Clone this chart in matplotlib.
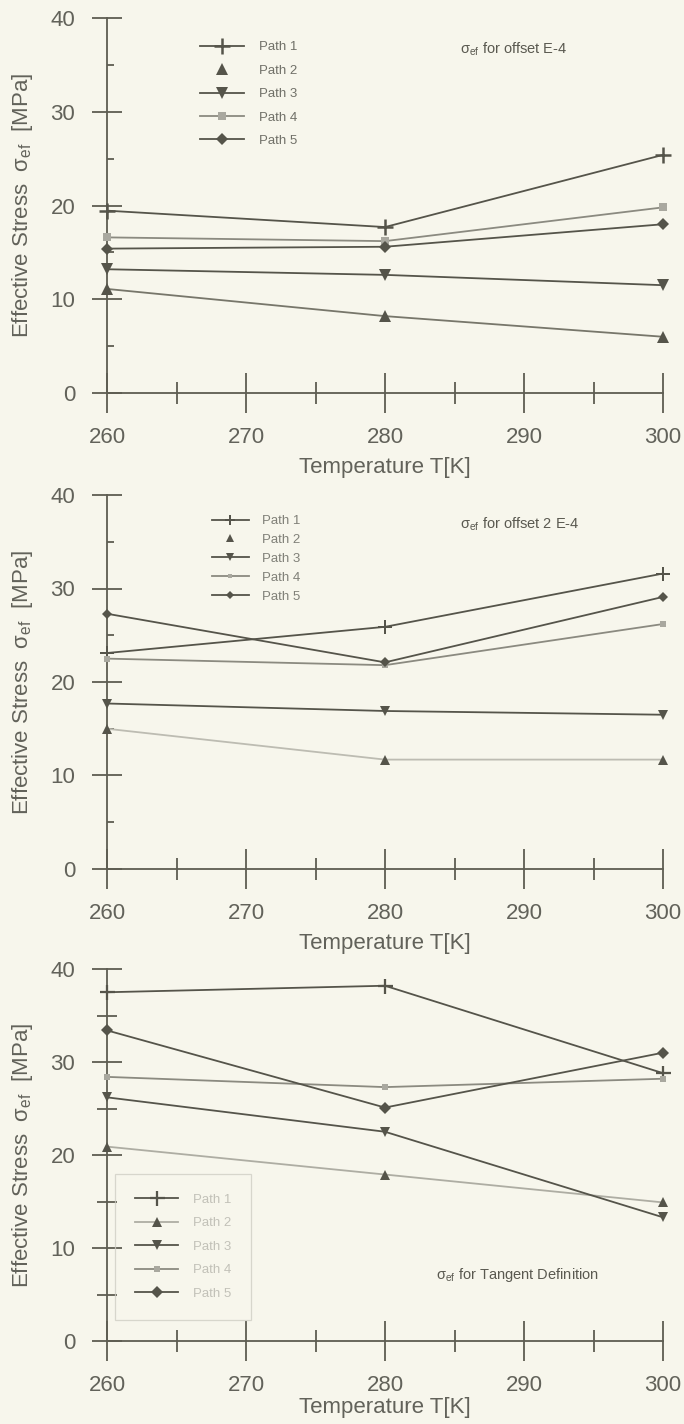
import matplotlib
matplotlib.use("Agg")
import matplotlib.pyplot as plt
from matplotlib.lines import Line2D
from matplotlib.ticker import MultipleLocator

# ---- data -------------------------------------------------------------
temperature = [260, 280, 300]
path_labels = ["Path 1", "Path 2", "Path 3", "Path 4", "Path 5"]
x_ticks = [260, 270, 280, 290, 300]
y_ticks = [0, 10, 20, 30, 40]

# offset E-4
off1_path1 = [19.45, 17.7, 25.4]
off1_path2 = [11.1, 8.2, 6.0]
off1_path3 = [13.2, 12.6, 11.5]
off1_path4 = [16.6, 16.2, 19.8]
off1_path5 = [15.4, 15.6, 18.0]

# offset 2 E-4
off2_path1 = [23.1, 25.9, 31.6]
off2_path2 = [15.0, 11.7, 11.7]
off2_path3 = [17.7, 16.9, 16.5]
off2_path4 = [22.5, 21.8, 26.2]
off2_path5 = [27.3, 22.1, 29.1]

# tangent definition
tan_path1 = [37.5, 38.2, 28.8]
tan_path2 = [20.9, 17.9, 14.9]
tan_path3 = [26.2, 22.5, 13.3]
tan_path4 = [28.4, 27.3, 28.2]
tan_path5 = [33.4, 25.1, 31.0]

titles = [r"$\sigma_{ef}$ for offset E-4",
          r"$\sigma_{ef}$ for offset 2 E-4",
          r"$\sigma_{ef}$ for Tangent Definition"]

# ---- style ------------------------------------------------------------
plt.rcParams["font.family"] = ["Liberation Sans", "DejaVu Sans"]
plt.rcParams["mathtext.fontset"] = "custom"
plt.rcParams["mathtext.rm"] = "Liberation Sans"
plt.rcParams["mathtext.it"] = "Liberation Sans"

BG = "#f7f6ec"
DARK = "#55544a"
TXT = "#62625a"
AX = "#5e5d52"

W, H = 684, 1424
fig = plt.figure(figsize=(W / 100, H / 100), dpi=100, facecolor=BG)

# panel frames in pixels: left, top(y=40), right, bottom(y=0)
frames = [(107, 18, 663, 393), (107, 495, 663, 869), (107, 969, 663, 1341)]
xlabel_y = [-0.17, -0.17, -0.15]

panels = [
    [off1_path1, off1_path2, off1_path3, off1_path4, off1_path5],
    [off2_path1, off2_path2, off2_path3, off2_path4, off2_path5],
    [tan_path1, tan_path2, tan_path3, tan_path4, tan_path5],
]

path2_line = ["#77766a", "#bdbcb2", "#aeada3"]
marker_scale = [1.0, 0.8, 0.9]
title_pos = [(0.635, 0.917), (0.635, 0.922), (0.592, 0.177)]


def styles(i):
    s = marker_scale[i]
    return [
        dict(marker="+", color=DARK, ms=12 * s, mew=1.8 * s),
        dict(marker="^", color=path2_line[i], mfc=DARK, mec=DARK, ms=8.5 * s, mew=0),
        dict(marker="v", color=DARK, mfc=DARK, mec=DARK, ms=8.5 * s, mew=0),
        dict(marker="s", color="#8b8a80", mfc="#a9a89f", mec="#a9a89f", ms=5.5 * s, mew=0),
        dict(marker="D", color=DARK, mfc=DARK, mec=DARK, ms=6.5 * s, mew=0),
    ]


for i, ((l, t, r, b), series) in enumerate(zip(frames, panels)):
    ax = fig.add_axes([l / W, 1 - b / H, (r - l) / W, (b - t) / H])
    ax.set_facecolor("none")
    st = styles(i)
    for vals, kw in zip(series, st):
        ax.plot(temperature, vals, lw=1.3, clip_on=False, zorder=3, **kw)

    ax.set_xlim(260, 300)
    ax.set_ylim(0, 40)
    ax.set_xticks(x_ticks)
    ax.set_yticks(y_ticks)
    ax.xaxis.set_minor_locator(MultipleLocator(5))
    ax.yaxis.set_minor_locator(MultipleLocator(5))
    for side in ("top", "right"):
        ax.spines[side].set_visible(False)
    for side in ("left", "bottom"):
        ax.spines[side].set_color(AX)
        ax.spines[side].set_linewidth(1.3)

    ax.tick_params(axis="x", which="major", direction="inout", length=29.5,
                   width=1.3, color=AX, labelsize=16, labelcolor=TXT, pad=10)
    ax.tick_params(axis="x", which="minor", direction="inout", length=16,
                   width=1.3, color=AX)
    ax.tick_params(axis="y", which="major", direction="inout", length=21.6,
                   width=1.3, color=AX, labelsize=16, labelcolor=TXT, pad=12)
    if i == 2:
        ax.tick_params(axis="y", which="minor", direction="inout", length=14,
                       width=1.3, color=AX)
    else:
        ax.tick_params(axis="y", which="minor", direction="in", length=5,
                       width=1.3, color=AX)

    ax.set_xlabel("Temperature T[K]", fontsize=16, color=TXT)
    ax.xaxis.set_label_coords(0.5, xlabel_y[i])
    ax.set_ylabel(r"Effective Stress  $\sigma_{ef}$  [MPa]", fontsize=16, color=TXT)
    ax.yaxis.set_label_coords(-0.13, 0.5)

    tx, ty = title_pos[i]
    ax.text(tx, ty, titles[i], transform=ax.transAxes, ha="left", va="center",
            fontsize=10.5, color="#5a5950")

    # legend handles
    handles = []
    for j, kw in enumerate(st):
        kw = dict(kw)
        if j == 1 and i < 2:
            kw["linestyle"] = "none"
        if i == 1:
            kw["ms"] = kw["ms"] * 0.8
        handles.append(Line2D([], [], lw=1.3, **kw))

    if i == 0:
        leg = ax.legend(handles, path_labels, loc="upper left",
                        bbox_to_anchor=((200 - l) / (r - l), (b - 41) / (b - t)),
                        frameon=False, fontsize=9.5, labelcolor="#707068",
                        borderpad=0, borderaxespad=0, labelspacing=0.85,
                        handlelength=3.3, handletextpad=1.2)
    elif i == 1:
        leg = ax.legend(handles, path_labels, loc="upper left",
                        bbox_to_anchor=((212 - l) / (r - l), (b - 515) / (b - t)),
                        frameon=False, fontsize=9.5, labelcolor="#808078",
                        borderpad=0, borderaxespad=0, labelspacing=0.5,
                        handlelength=2.8, handletextpad=1.0)
    else:
        leg = ax.legend(handles, path_labels, loc="upper left",
                        bbox_to_anchor=((115 - l) / (r - l), (b - 1174) / (b - t)),
                        frameon=True, fancybox=False, fontsize=9.5,
                        labelcolor="#c2c1b8", borderpad=1.5, borderaxespad=0,
                        labelspacing=0.85, handlelength=3.3, handletextpad=1.1)
        leg.get_frame().set_edgecolor("#cfcec5")
        leg.get_frame().set_facecolor("none")
        leg.get_frame().set_linewidth(0.9)

fig.savefig("out.png", dpi=100, facecolor=BG)
